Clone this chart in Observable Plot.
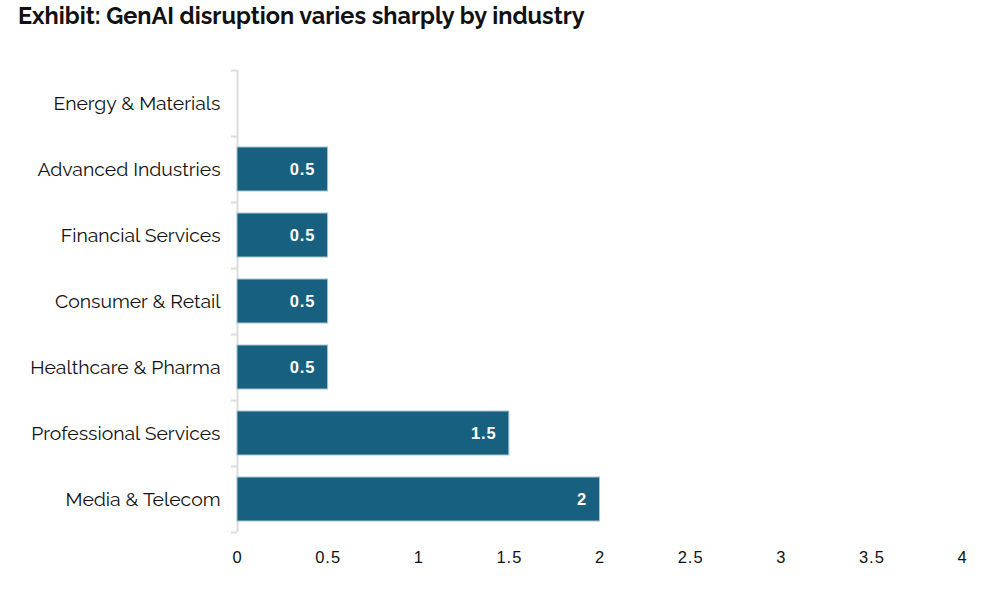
<!DOCTYPE html>
<html>
<head>
<meta charset="utf-8">
<script src="https://cdn.jsdelivr.net/npm/d3@7"></script>
<script src="https://cdn.jsdelivr.net/npm/@observablehq/plot@0.6"></script>
<style>
  body { margin: 0; background: #fff; }
  #title { font-family: Raleway, Lato, "Open Sans", sans-serif; font-weight: 700; font-size: 23.5px; color: #111; padding: 2px 0 0 18px; height: 38px; box-sizing: content-box; white-space: nowrap; }
  #chart svg { display: block; }
  #chart svg g[aria-label="x-axis tick label"] text { letter-spacing: 1px; }
  #chart svg g[aria-label="text"] text { letter-spacing: 0.8px; }
</style>
</head>
<body>
<div id="title">Exhibit: GenAI disruption varies sharply by industry</div>
<div id="chart"></div>
<script>
const categories = ["Energy & Materials", "Advanced Industries", "Financial Services", "Consumer & Retail", "Healthcare & Pharma", "Professional Services", "Media & Telecom"];
const values = [0, 0.5, 0.5, 0.5, 0.5, 1.5, 2];
const xTicks = [0, 0.5, 1, 1.5, 2, 2.5, 3, 3.5, 4];

const data = categories.map((c, i) => ({category: c, value: values[i]}));
const H = 556, MT = 30, MB = 64;
const step = (H - MT - MB) / categories.length;

const chart = Plot.plot({
  width: 998,
  height: H,
  marginLeft: 237,
  marginRight: 36,
  marginTop: MT,
  marginBottom: MB,
  style: {fontFamily: "Liberation Sans, Arial, sans-serif", color: "#111", background: "#fff"},
  x: {domain: [0, 4], ticks: xTicks, axis: null, label: null},
  y: {domain: categories, paddingInner: 1/3, paddingOuter: 1/6, axis: null, label: null},
  marks: [
    Plot.axisX({ticks: xTicks, tickSize: 0, tickPadding: 19, fontSize: 16.5, tickFormat: d => String(d), fill: "#111", label: null}),
    Plot.axisY({tickSize: 0, tickPadding: 17, fontSize: 19.4, fontFamily: "Raleway, Lato, 'Open Sans', sans-serif", fill: "#111", label: null}),
    Plot.ruleX([0], {stroke: "#dcdcdc", strokeWidth: 2}),
    Plot.ruleY(categories, {y: d => d, x1: -6/181.25, x2: 0, dy: -step/2, stroke: "#dcdcdc", strokeWidth: 2}),
    Plot.ruleY([categories[categories.length - 1]], {y: d => d, x1: -6/181.25, x2: 0, dy: step/2, stroke: "#dcdcdc", strokeWidth: 2}),
    Plot.barX(data.filter(d => d.value > 0), {x: "value", y: "category", fill: "#17607f", stroke: "#a8c4d4", strokeWidth: 1}),
    Plot.text(data.filter(d => d.value > 0), {x: "value", y: "category", text: d => String(d.value), textAnchor: "end", dx: -13, fill: "#fff", fontWeight: "bold", fontSize: 16.5})
  ]
});
document.getElementById("chart").appendChild(chart);
</script>
</body>
</html>
